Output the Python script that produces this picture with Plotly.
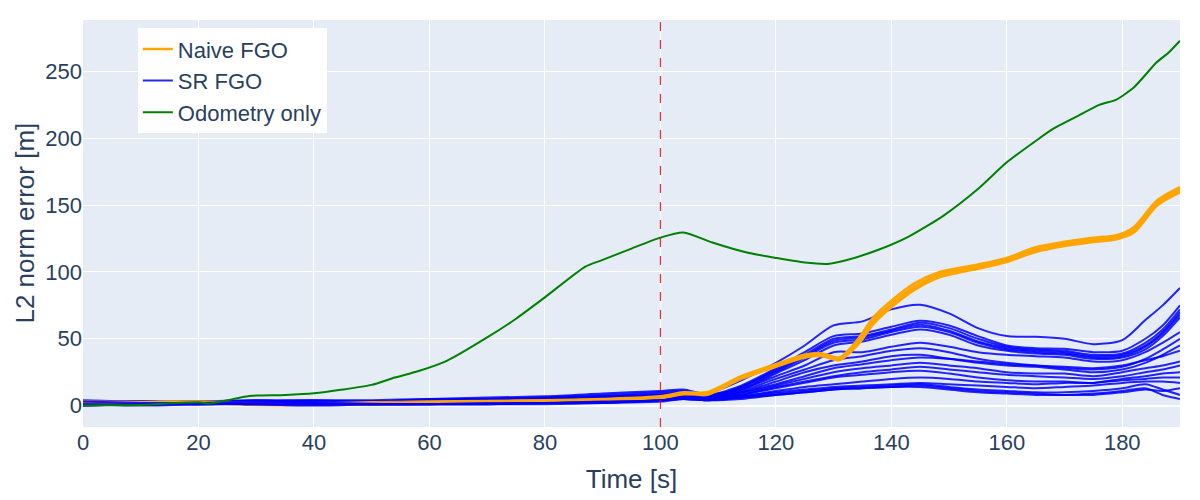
import plotly.graph_objects as go

# time grids [s]
t_sr = [0, 10, 20, 30, 40, 50, 60, 70, 80, 90, 100, 104,
        108, 114, 120, 125, 130, 135, 140, 145, 150, 155, 160, 165, 170, 175, 180, 184, 187, 190]
t_naive = [0, 10, 20, 30, 40, 50, 60, 70, 80, 90, 100, 104, 108, 114, 120, 125, 128, 131,
           134, 137, 140, 144, 148, 155, 160, 165, 170, 175, 179, 182, 186, 190]
t_odom = [0, 5, 10, 15, 20, 22, 25, 28, 30, 35, 40, 45, 50, 54, 58, 63, 70, 75, 80, 87, 90,
          95, 100, 104, 109, 115, 120, 125, 129, 132, 138, 143, 149, 155, 160, 165, 168, 172,
          176, 179, 182, 186, 188, 190]

# L2 norm error [m], SR FGO runs
sr_a = [3, 2, 3, 4, 4, 3, 5, 6, 7, 9, 11, 12,
        9, 19, 32, 45, 60, 63, 72, 75.5, 69, 58, 52, 51.5, 50, 46, 49, 64, 75, 88]
sr_b1 = [2, 3, 2, 3, 4, 4, 5, 5, 6, 8, 10, 11,
         8, 15, 28, 40, 52, 54, 59, 63.5, 60, 52, 45, 43, 42.5, 40, 41, 50, 60, 75]
sr_b2 = [1, 2, 3, 2, 3, 3, 4, 5, 6, 7, 9, 10,
         7, 14, 27, 38, 50, 52, 57, 62, 58, 50, 44, 42, 41, 38, 39, 47, 57, 72]
sr_b3 = [3, 2, 1, 3, 3, 2, 3, 4, 5, 7, 8, 9,
         7, 14, 26, 37, 48.5, 51, 56, 60.5, 56, 48, 43, 41, 40, 37, 38, 45, 55, 70]
sr_b4 = [2, 1, 2, 4, 2, 3, 4, 4, 5, 6, 8, 9,
         8, 13, 25, 36, 47, 49.5, 55, 59, 55, 47, 42, 40, 39, 36, 37, 44, 54, 68]
sr_b5 = [0, 1, 2, 3, 3, 2, 3, 4, 4, 6, 7, 8,
         6, 12, 24, 34, 45, 48, 53, 57, 53, 45, 41, 39, 38, 35, 36, 42, 52, 66]
sr_c1 = [4, 3, 3, 2, 2, 3, 3, 4, 5, 6, 8, 10,
         7, 12, 22, 30, 40, 40, 44, 47, 44, 40, 38, 37, 36, 33, 34, 40, 47, 55]
sr_c2 = [1, 2, 2, 1, 2, 2, 3, 3, 4, 5, 7, 9,
         6, 11, 20, 27, 34, 37, 41, 43, 40, 35, 32, 30, 28, 27, 29, 35, 42, 50]
sr_c3 = [2, 3, 2, 2, 1, 1, 2, 3, 4, 5, 7, 8,
         6, 10, 18, 25, 30, 33, 37, 38, 35, 32, 30, 29, 27, 25, 27, 32, 38, 45]
sr_d1 = [3, 1, 2, 3, 3, 2, 2, 3, 3, 4, 6, 8,
         6, 10, 16, 22, 28, 31, 34, 36, 35, 33, 31, 30, 29, 28, 30, 34, 37, 41]
sr_d2 = [2, 2, 3, 2, 2, 1, 2, 2, 3, 4, 6, 7,
         5, 9, 15, 20, 25, 28, 30, 32, 30, 28, 25, 24, 24, 22, 25, 28, 30, 33]
sr_d3 = [1, 2, 1, 2, 3, 2, 2, 2, 3, 4, 5, 7,
         5, 8, 14, 18, 22, 25, 27, 29, 27, 25, 23, 22, 21, 20, 22, 25, 27, 30]
sr_d4 = [0, 1, 2, 1, 1, 2, 2, 2, 2, 3, 5, 6,
         5, 8, 13, 17, 21, 23, 25, 26, 24, 21, 19, 18, 18, 17, 20, 22, 24, 25]
sr_e1 = [2, 2, 1, 2, 2, 1, 1, 2, 2, 3, 5, 6,
         5, 7, 11, 14, 16, 18, 20, 21, 20, 18, 17, 16, 17, 17, 19, 20, 21, 21]
sr_e2 = [1, 1, 2, 1, 1, 1, 1, 2, 2, 3, 4, 6,
         5, 7, 10, 12, 14, 15, 16, 17, 16, 15, 14, 13, 14, 15, 17, 18, 18, 17]
sr_e3 = [3, 2, 2, 3, 2, 1, 1, 1, 2, 2, 4, 5,
         4, 6, 9, 11, 13, 14, 15, 16, 14, 12, 11, 10, 10, 11, 13, 16, 12, 8]
sr_e4 = [0, 1, 1, 2, 1, 1, 1, 1, 2, 2, 4, 5,
         4, 6, 8, 10, 12, 13, 14, 15, 13, 11, 10, 9, 8, 9, 11, 13, 8, 5]
sr_e5 = [1, 0, 1, 1, 0, 1, 1, 1, 1, 2, 3, 5,
         4, 5, 8, 10, 12, 13, 14, 14, 12, 10, 9, 8, 8, 8, 10, 12, 11, 13]

# Naive FGO runs
naive_1 = [2, 2, 2.5, 1, 1, 2, 2, 3, 3, 4, 6, 9, 9, 21, 30, 37, 38, 35,
           47, 64, 76, 89, 98, 104, 109, 117, 121, 124, 126, 132, 152, 162]
naive_2 = [1, 1.5, 2, 0.5, 0.5, 1, 1.5, 2, 2.5, 3, 5, 8, 8, 20, 29, 36, 37, 34,
           44.5, 61.5, 73.5, 86.5, 95.5, 102.5, 107.5, 115, 119.5, 122.5, 124.5, 129.5, 149.5, 159.5]
naive_3 = [3, 2.5, 3, 2, 2, 2.5, 3, 3.5, 4, 5, 7, 10, 10, 22, 31, 38, 39, 36,
           48.5, 66.5, 78.5, 91.5, 99.5, 105.5, 110.5, 118.5, 122.5, 125.5, 127.5, 133.5, 153.5, 163.5]
naive_4 = [1.5, 2, 1.5, 1.5, 1, 1.5, 2.5, 3, 3.5, 4.5, 5.5, 8.5, 9, 21, 30, 37.5, 38.5, 35,
           46, 63, 75, 88, 97, 104, 109, 116, 121, 124, 126, 131, 151, 161]

# odometry only
odom = [0, 0.3, 0.5, 1.7, 2.5, 1.5, 4, 6.7, 7.5, 8, 9.2, 12, 15.5, 21, 25.7, 33.5, 51, 65,
        81, 104, 109, 117.5, 125.7, 129.5, 122, 114.5, 110.5, 107, 106, 108.5, 117, 126.5,
        142, 162, 182, 198, 207, 216, 225, 229, 238, 257, 264, 273]

# drawing order: SR runs with naive runs slotted in between
order = [
    ("sr", sr_a), ("sr", sr_b1), ("sr", sr_b2), ("sr", sr_b3), ("sr", sr_b4), ("sr", sr_b5),
    ("naive", naive_1), ("sr", sr_c1), ("sr", sr_c2), ("sr", sr_c3), ("naive", naive_2),
    ("sr", sr_d1), ("sr", sr_d2), ("naive", naive_3), ("sr", sr_d3), ("sr", sr_d4),
    ("sr", sr_e1), ("naive", naive_4), ("sr", sr_e2), ("sr", sr_e3), ("sr", sr_e4), ("sr", sr_e5),
]

fig = go.Figure()
shown = set()
for kind, vals in order:
    if kind == "sr":
        x, name, color, rank, op, w = t_sr, "SR FGO", "blue", 2, 0.85, 2
    else:
        x, name, color, rank, op, w = t_naive, "Naive FGO", "orange", 1, 1.0, 2.6
    fig.add_trace(go.Scatter(
        x=x, y=vals, mode="lines", name=name, legendgroup=name, legendrank=rank,
        showlegend=kind not in shown, opacity=op,
        line=dict(color=color, width=w, shape="spline", smoothing=0.8),
    ))
    shown.add(kind)

fig.add_trace(go.Scatter(
    x=t_odom, y=odom, mode="lines", name="Odometry only", legendrank=3,
    line=dict(color="green", width=2, shape="spline", smoothing=0.6),
))

fig.add_vline(x=100, line_dash="dash", line_color="red", line_width=1)

# y title as a rotated annotation so it can sit a bit further left than the axis allows
fig.add_annotation(
    text="L2 norm error [m]", textangle=-90, showarrow=False,
    xref="paper", yref="paper", x=-0.053, y=0.502, xanchor="center", yanchor="middle",
    font=dict(size=26),
)

# page body adds an 8px offset, margins compensate for it
fig.update_layout(
    width=1200, height=500,
    margin=dict(l=75, r=28, t=12, b=81),
    font=dict(family="Liberation Sans, Arial, sans-serif", size=22, color="#2a3f5f"),
    xaxis=dict(title=dict(text="Time [s]", font=dict(size=26)), range=[0, 190],
               dtick=20, zeroline=False, automargin=False),
    yaxis=dict(range=[-16, 288.5], dtick=50, zeroline=True, zerolinecolor="white",
               zerolinewidth=2, automargin=False),
    legend=dict(x=0.05, y=0.98, xanchor="left", yanchor="top", bgcolor="white",
                font=dict(size=22), tracegroupgap=0),
)

fig.write_html("out.html")
